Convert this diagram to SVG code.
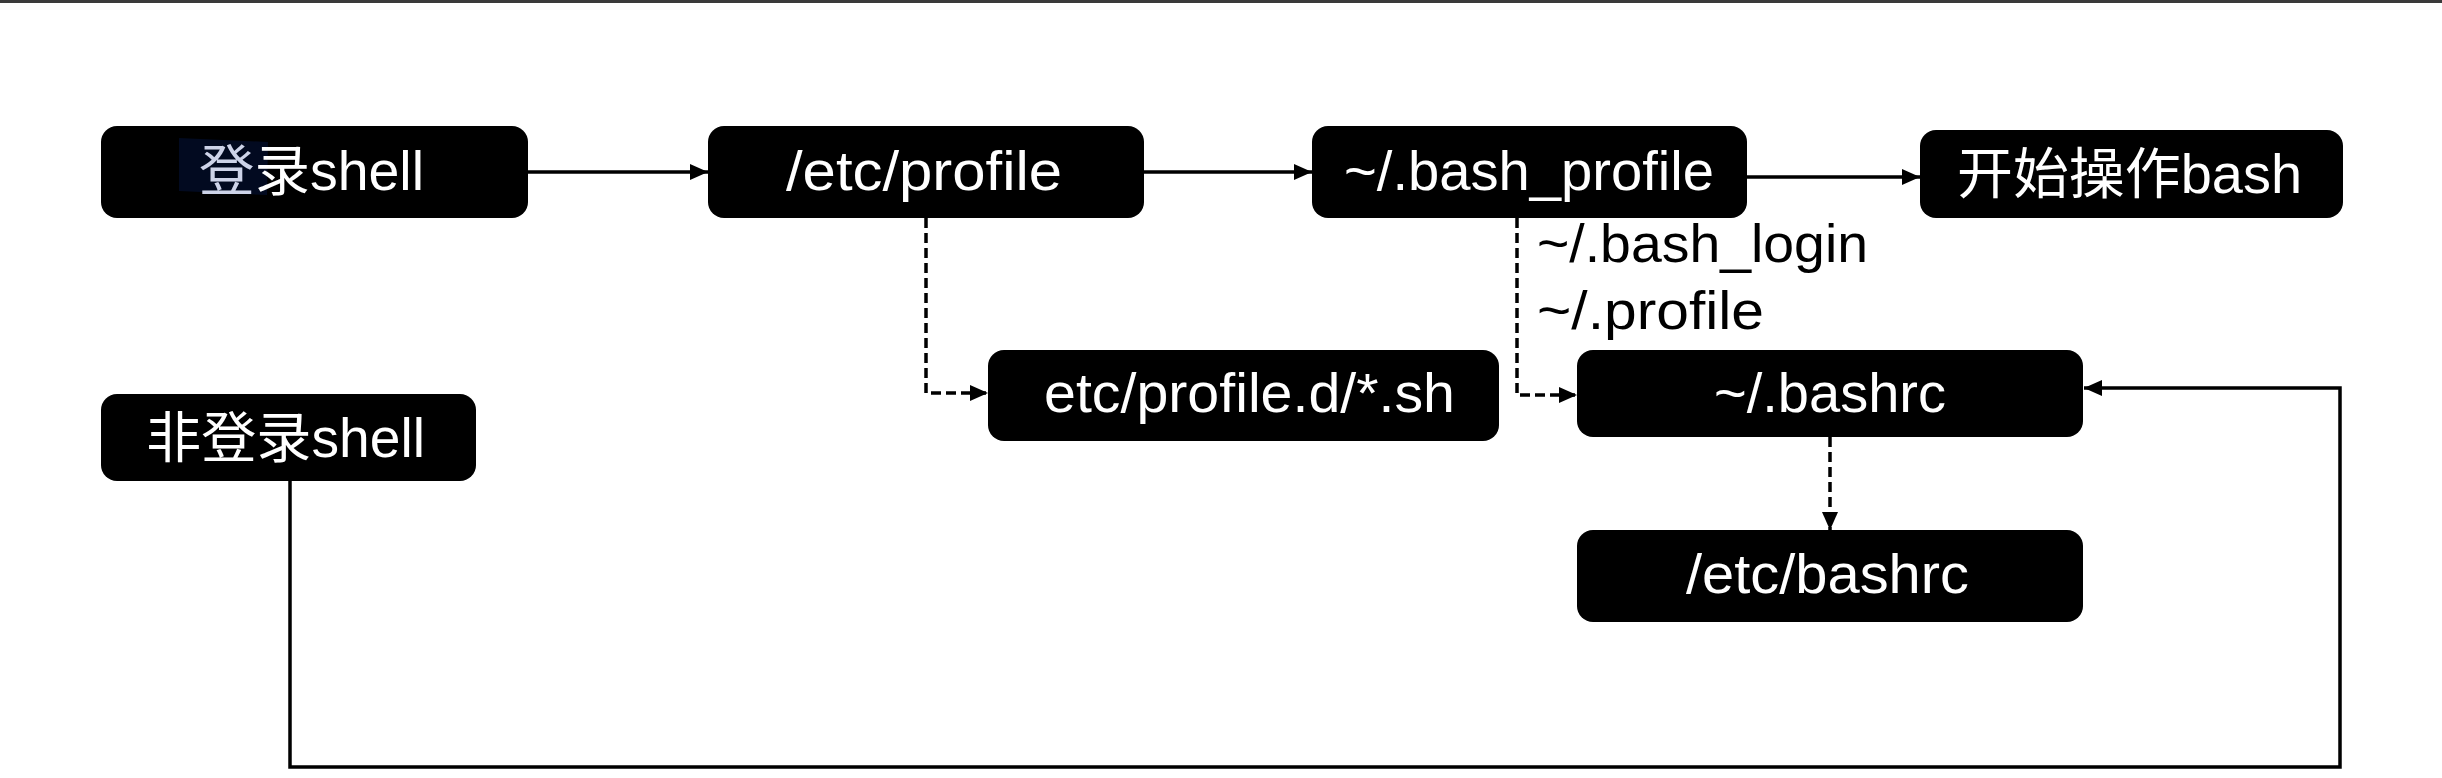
<svg xmlns="http://www.w3.org/2000/svg" width="2442" height="778" viewBox="0 0 2442 778">
<style>
.box{fill:#000}
.t{font-family:"Liberation Sans","Noto Sans CJK SC",sans-serif;font-size:55px;fill:#fff}
.lbl{font-family:"Liberation Sans","Noto Sans CJK SC",sans-serif;font-size:54px;fill:#000}
.solid{fill:none;stroke:#000;stroke-width:3.5}
.dash{fill:none;stroke:#000;stroke-width:3.5;stroke-dasharray:10 5}
</style>
<defs>
<marker id="ah" markerUnits="userSpaceOnUse" markerWidth="18" markerHeight="16" refX="18" refY="8" orient="auto">
<path d="M0,0 L18,8 L0,16 Z" fill="#000"/>
</marker>
</defs>
<rect x="0" y="0" width="2442" height="778" fill="#fff"/>
<line x1="0" y1="1.5" x2="2442" y2="1.5" stroke="#3a3a3a" stroke-width="3"/>
<g id="connectors">
<path class="solid" d="M528,172 H708" marker-end="url(#ah)"/>
<path class="solid" d="M1144,172 H1312" marker-end="url(#ah)"/>
<path class="solid" d="M1747,177 H1920" marker-end="url(#ah)"/>
<path class="dash" d="M926,218 V393 H988" marker-end="url(#ah)"/>
<path class="dash" d="M1517,218 V395 H1577" marker-end="url(#ah)"/>
<path class="dash" d="M1830,437 V530" marker-end="url(#ah)"/>
<path class="solid" d="M290,481 V767 H2340 V388 H2084" marker-end="url(#ah)"/>
<text class="lbl" x="1537" y="262" textLength="331" lengthAdjust="spacingAndGlyphs">~/.bash_login</text>
<text class="lbl" x="1537" y="329" textLength="227" lengthAdjust="spacingAndGlyphs">~/.profile</text>
</g>
<g id="login-shell">
<rect class="box" x="101" y="126" width="427" height="92" rx="16"/>
<polygon points="179,138 268,142 267,195 179,191" fill="#020a20"/>
<text class="t" x="199" y="190" textLength="225" lengthAdjust="spacingAndGlyphs"><tspan fill="#cdd3e8">登</tspan>录shell</text>
</g>
<g id="etc-profile">
<rect class="box" x="708" y="126" width="436" height="92" rx="16"/>
<text class="t" x="786" y="190" textLength="276" lengthAdjust="spacingAndGlyphs">/etc/profile</text>
</g>
<g id="bash-profile">
<rect class="box" x="1312" y="126" width="435" height="92" rx="16"/>
<text class="t" x="1344" y="190" textLength="370" lengthAdjust="spacingAndGlyphs">~/.bash_profile</text>
</g>
<g id="start-bash">
<rect class="box" x="1920" y="130" width="423" height="88" rx="16"/>
<text class="t" x="1957" y="193" textLength="345" lengthAdjust="spacingAndGlyphs">开始操作bash</text>
</g>
<g id="profile-d">
<rect class="box" x="988" y="350" width="511" height="91" rx="16"/>
<text class="t" x="1044" y="412" textLength="411" lengthAdjust="spacingAndGlyphs">etc/profile.d/*.sh</text>
</g>
<g id="bashrc">
<rect class="box" x="1577" y="350" width="506" height="87" rx="16"/>
<text class="t" x="1714" y="412" textLength="232" lengthAdjust="spacingAndGlyphs">~/.bashrc</text>
</g>
<g id="etc-bashrc">
<rect class="box" x="1577" y="530" width="506" height="92" rx="16"/>
<text class="t" x="1686" y="593" textLength="283" lengthAdjust="spacingAndGlyphs">/etc/bashrc</text>
</g>
<g id="non-login-shell">
<rect class="box" x="101" y="394" width="375" height="87" rx="16"/>
<text class="t" x="146" y="457" textLength="279" lengthAdjust="spacingAndGlyphs">非登录shell</text>
</g>
</svg>
